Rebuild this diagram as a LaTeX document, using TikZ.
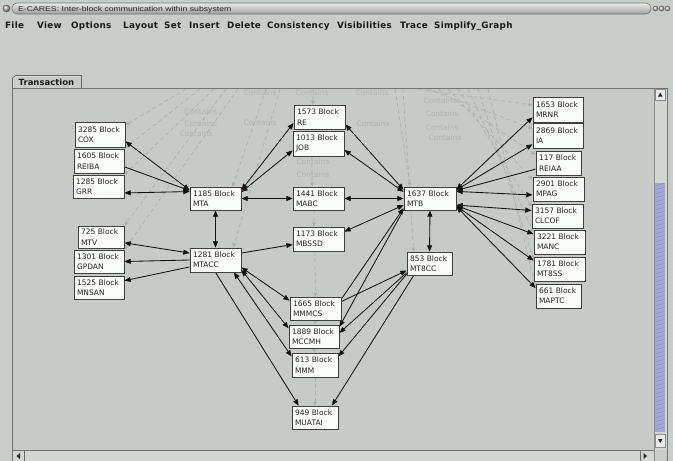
\documentclass[tikz,border=0pt]{standalone}
\usepackage{fontspec}
\setmainfont{DejaVu Sans}
\newfontfamily\titlefont{Liberation Sans}
\newfontfamily\menufont[LetterSpace=3]{DejaVu Sans Bold}
\usetikzlibrary{arrows.meta}
\definecolor{winbg}{HTML}{C9CDC9}
\definecolor{canvasbg}{HTML}{C7CBC7}
\definecolor{faintc}{HTML}{ADB1AD}
\definecolor{faintt}{HTML}{B2B6B2}
\definecolor{nodefill}{HTML}{F9FCF9}
\definecolor{nodeedge}{HTML}{3E403E}
\definecolor{edgec}{HTML}{111111}
\definecolor{thumbc}{HTML}{A6A6D6}
\definecolor{trackc}{HTML}{D3D6D3}
\pgfdeclarelayer{canvaslayer}
\pgfdeclarelayer{faintlayer}
\pgfdeclarelayer{edgelayer}
\pgfsetlayers{canvaslayer,faintlayer,edgelayer,main}
\newcommand\blkn[7]{\node[blk,text width=#4pt,minimum height=#5pt] (#1) at (#2,#3) {#6\\#7};}
\begin{document}
\begin{tikzpicture}[x=1pt,y=-1pt,
  >={Triangle[length=6.3pt,width=5pt]},
  blk/.style={draw=nodeedge,line width=0.8pt,fill=nodefill,inner xsep=3pt,inner ysep=0pt,
    align=left,text=black!85,font=\fontsize{7.5}{10.3}\selectfont},
  edg/.style={draw=edgec,line width=0.85pt},
  faint/.style={draw=faintc,line width=0.7pt,dash pattern=on 4pt off 3pt,
    -{Triangle[length=4pt,width=3.6pt]}},
  ctext/.style={text=faintt,font=\fontsize{7.5}{8}\selectfont,inner sep=0pt},
  menu/.style={anchor=base west,inner sep=0pt,font=\menufont\fontsize{8.8}{10}\selectfont,text=black!90}]
\useasboundingbox (0,0) rectangle (673,461);
% window background and canvas
\begin{pgfonlayer}{canvaslayer}
\fill[winbg] (0,0) rectangle (673,461);
\fill[canvasbg] (12,88) rectangle (654,450);
\end{pgfonlayer}
% title bar
\shadedraw[top color=white!92!black,bottom color=black!38,draw=black!55,line width=0.6pt,rounded corners=5pt] (12,3) rectangle (651,14);
\shadedraw[ball color=black!30,draw=black!60,line width=0.4pt] (6.5,8.5) circle[radius=3.6pt];
\foreach \bx in {655.5,661.5,667.5}{\shadedraw[ball color=black!25,draw=black!60,line width=0.4pt] (\bx,8.5) circle[radius=2.6pt];}
\node[anchor=base west,inner sep=0pt,font=\titlefont\fontsize{7}{8}\selectfont,text=black!85] (ttl) at (18,11.6) {\scalebox{1.24}[1]{E-CARES: Inter-block communication within subsystem}};
% menu
\foreach \mx/\mw [count=\mi] in {5/File,37/View,71/Options,123/Layout,164/Set,189/Insert,227/Delete,267/Consistency,337/Visibilities,400/Trace,434/Simplify\_Graph}
  {\node[menu,name=menu\mi] at (\mx,28) {\mw};}
% tab
\draw[black!60,line width=0.7pt] (12.5,88) -- (12.5,78) -- (15.5,75.5) -- (81.5,75.5) -- (81.5,88);
\draw[white!85!black,line width=0.6pt] (13.5,88) -- (13.5,78.5) -- (16,76.5) -- (80.5,76.5);
\node[anchor=base west,inner sep=0pt,font=\bfseries\fontsize{8.5}{10}\selectfont,text=black!90] (tab) at (18.5,85.5) {Transaction};
% vertical scrollbar
\fill[trackc] (654,88) rectangle (666.5,450);
\fill[white!92!black] (655,89) rectangle (665.5,100);
\draw[black!45,line width=0.5pt] (655,89) rectangle (665.5,100);
\fill[black!85] (658,96.5) -- (662.5,96.5) -- (660.25,92.5) -- cycle;
\fill[thumbc] (655,183) rectangle (665,432);
\foreach \hy in {186,190,...,430}{\draw[thumbc!80!blue!70!black,line width=0.3pt,opacity=0.5] (655,\hy) -- (665,\hy-3);}
\fill[white!92!black] (655,434) rectangle (665.5,447);
\draw[black!45,line width=0.5pt] (655,434) rectangle (665.5,447);
\fill[black!85] (658,439) -- (662.5,439) -- (660.25,443) -- cycle;
% horizontal scrollbar
\fill[trackc] (12,450.5) rectangle (654,461);
\fill[black!85] (20,453) -- (20,459) -- (16.5,456) -- cycle;
\fill[black!85] (643.5,453) -- (643.5,459) -- (647,456) -- cycle;
\draw[black!60,line width=0.6pt] (640,451) -- (640,461);
\draw[black!60,line width=0.6pt] (24,451) -- (24,461);
% frames
\draw[black!55,line width=0.8pt] (12,461) -- (12,88) -- (667,88) -- (667,461);
\draw[black!55,line width=0.8pt] (12,450.5) -- (654,450.5);
\draw[black!45,line width=0.6pt] (654,88) -- (654,461);
% nodes
\blkn{cox}{100}{134.5}{44}{25}{3285 Block}{COX}
\blkn{reiba}{99}{161}{44}{24}{1605 Block}{REIBA}
\blkn{grr}{98.5}{186.5}{45}{23}{1285 Block}{GRR}
\blkn{mta}{215.5}{198.5}{45}{23}{1185 Block}{MTA}
\blkn{mtv}{101}{237}{40}{22}{725 Block}{MTV}
\blkn{gpdan}{99}{261.5}{44}{23}{1301 Block}{GPDAN}
\blkn{mnsan}{99}{287.5}{44}{23}{1525 Block}{MNSAN}
\blkn{mtacc}{215.5}{260}{45}{24}{1281 Block}{MTACC}
\blkn{re}{319.5}{117}{45}{24}{1573 Block}{RE}
\blkn{job}{318.5}{143.5}{45}{25}{1013 Block}{JOB}
\blkn{mabc}{318.5}{198.5}{45}{23}{1441 Block}{MABC}
\blkn{mbssd}{318.5}{239}{45}{24}{1173 Block}{MBSSD}
\blkn{mtb}{430}{198.5}{46}{23}{1637 Block}{MTB}
\blkn{mt8cc}{429.5}{263.5}{39}{23}{853 Block}{MT8CC}
\blkn{mmmcs}{315.5}{308.5}{45}{23}{1665 Block}{MMMCS}
\blkn{mccmh}{314}{336.5}{44}{23}{1889 Block}{MCCMH}
\blkn{mmm}{315}{365}{40}{24}{613 Block}{MMM}
\blkn{muatai}{315}{417.5}{40}{23}{949 Block}{MUATAI}
\blkn{mrnr}{558}{109.5}{44}{25}{1653 Block}{MRNR}
\blkn{ia}{558}{135.5}{44}{25}{2869 Block}{IA}
\blkn{reiaa}{558.5}{163}{39}{24}{117 Block}{REIAA}
\blkn{mpag}{558.5}{189}{45}{24}{2901 Block}{MPAG}
\blkn{clcof}{557.5}{216}{45}{24}{3157 Block}{CLCOF}
\blkn{manc}{559.5}{242}{45}{24}{3221 Block}{MANC}
\blkn{mt8ss}{559.5}{269}{45}{24}{1781 Block}{MT8SS}
\blkn{maptc}{558.5}{296}{39}{24}{661 Block}{MAPTC}
% faint containment edges
\begin{pgfonlayer}{faintlayer}
\coordinate (fa1) at (186,89);
\coordinate (fa2) at (200,89);
\coordinate (fa3) at (214,89);
\coordinate (fa4) at (226,89);
\coordinate (fa5) at (238,89);
\coordinate (fa6) at (266,89);
\coordinate (fa7) at (280,89);
\coordinate (fm1) at (313,89);
\coordinate (fr0) at (395,89);
\coordinate (fr1) at (403,89);
\coordinate (fr2) at (418,89);
\coordinate (fr3) at (428,89);
\coordinate (fr4) at (438,89);
\coordinate (fr5) at (448,89);
\coordinate (fr6) at (458,89);
\coordinate (fr7) at (468,89);
\coordinate (fr8) at (478,89);
\coordinate (fr9) at (488,89);
\draw[faint] (fa1) -- (cox.20);
\draw[faint] (fa2) -- (reiba.north east);
\draw[faint] (fa3) -- (grr.north east);
\draw[faint] (fa4) -- (mtv.north east);
\draw[faint] (fa5) -- (gpdan.north east);
\draw[faint] (fa6) -- (mta.35);
\draw[faint] (fa7) -- (mtacc.35);
\draw[faint] (fm1) -- (re.118);
\draw[faint] (job.242) -- (mabc.118);
\draw[faint] (mabc.250) -- (mbssd.110);
\draw[faint] (mbssd.254) -- (mmmcs.north);
\draw[faint] (mmmcs.south) -- (mccmh.north);
\draw[faint] (mccmh.south) -- (mmm.north);
\draw[faint] (mmm.south) -- (muatai.north);
\draw[faint] (fr0) -- (mtb.149);
\draw[faint] (fr1) -- (mt8cc.143);
\draw[faint] (fr2) -- (mrnr.170);
\draw[faint] (fr3) -- (ia.165);
\draw[faint] (fr4) -- (reiaa.160);
\draw[faint] (fr5) -- (mpag.160);
\draw[faint] (fr6) -- (clcof.160);
\draw[faint] (fr7) -- (manc.160);
\draw[faint] (fr8) -- (mt8ss.160);
\draw[faint] (fr9) -- (maptc.160);
\node[ctext] (c1) at (200.7,111.3) {Contains};
\node[ctext] (c2) at (200.7,124) {Contains};
\node[ctext] (c3) at (196,133.7) {Contains};
\node[ctext] (c4) at (260,122.7) {Contains};
\node[ctext] (c5) at (260,93) {Contains};
\node[ctext] (c6) at (312,93) {Contains};
\node[ctext] (c7) at (372,93) {Contains};
\node[ctext] (c8) at (373,124) {Contains};
\node[ctext] (c9) at (440,101) {Contains};
\node[ctext] (c10) at (442,114) {Contains};
\node[ctext] (c11) at (442,128) {Contains};
\node[ctext] (c12) at (445,138) {Contains};
\node[ctext] (c13) at (313,161.5) {Contains};
\node[ctext] (c14) at (313,175) {Contains};
\end{pgfonlayer}
% communication edges
\begin{pgfonlayer}{edgelayer}
\draw[edg,<->] (cox.-15) -- (mta.162);
\draw[edg,->] (reiba.-13) -- (mta.163);
\draw[edg,<->] (grr.-14) -- (mta.165);
\draw[edg,<->] (mta.18) -- (re.193);
\draw[edg,<->] (mta.14) -- (job.195);
\draw[edg,<->] (mta.east) -- (mabc.west);
\draw[edg,<->] (mta.south) -- (mtacc.north);
\draw[edg,<->] (mtacc.165) -- (mtv.-14);
\draw[edg,->] (mtacc.west) -- (gpdan.east);
\draw[edg,->] (mtacc.195) -- (mnsan.15);
\draw[edg,->] (mtacc.15) -- (mbssd.192);
\draw[edg,<->] (mtacc.-16) -- (mmmcs.163);
\draw[edg,<->] (mtacc.-21) -- (mccmh.162);
\draw[edg,<->] (mtacc.-34) -- (mmm.160);
\draw[edg,->] (mtacc.south) -- (muatai.144);
\draw[edg,<->] (mtb.162) -- (re.-16);
\draw[edg,<->] (mtb.166) -- (job.-14);
\draw[edg,<->] (mtb.west) -- (mabc.east);
\draw[edg,<->] (mtb.194) -- (mbssd.16);
\draw[edg,<->] (mtb.south) -- (mt8cc.north);
\draw[edg,->] (mmmcs.20) -- (mtb.200);
\draw[edg,->] (mtb.203) -- (mccmh.21);
\draw[edg,->] (mmmcs.15) -- (mt8cc.197);
\draw[edg,->] (mt8cc.202) -- (mccmh.8);
\draw[edg,->] (mt8cc.205) -- (mmm.20);
\draw[edg,->] (mt8cc.217) -- (muatai.35);
\draw[edg,<->] (mtb.19) -- (mrnr.197);
\draw[edg,<->] (mtb.18) -- (ia.199);
\draw[edg,<-] (mtb.17) -- (reiaa.195);
\draw[edg,<->] (mtb.15) -- (mpag.193);
\draw[edg,<->] (mtb.-14) -- (clcof.168);
\draw[edg,<->] (mtb.-15) -- (manc.163);
\draw[edg,<->] (mtb.-16) -- (mt8ss.162);
\draw[edg,<->] (mtb.-17) -- (maptc.161);
\end{pgfonlayer}
\end{tikzpicture}
\end{document}
